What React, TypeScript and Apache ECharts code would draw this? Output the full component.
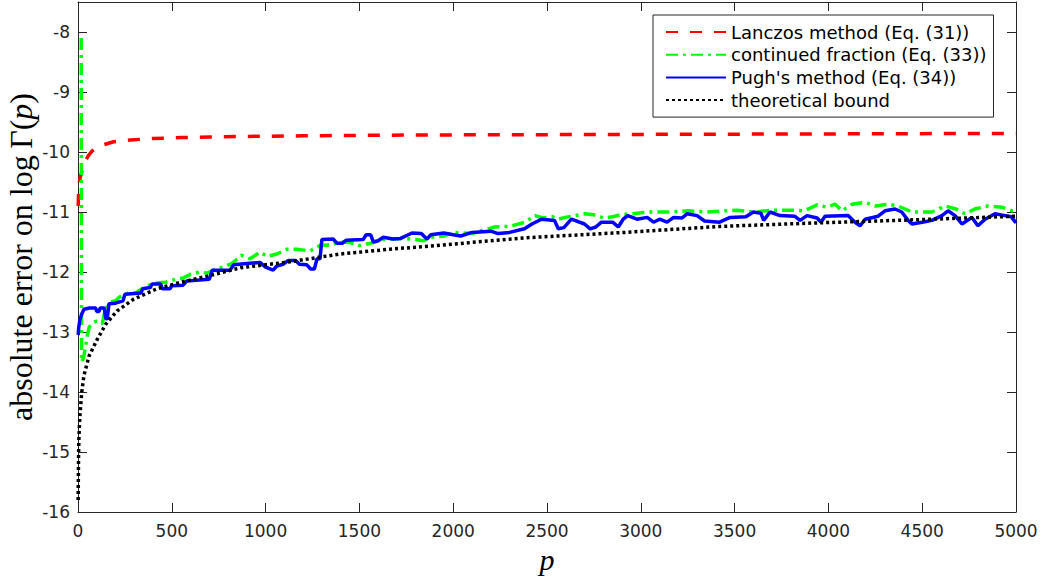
import React, { useEffect, useRef } from 'react';
import * as echarts from 'echarts';

// ---- data ----
const lanczosP = [1, 3, 6, 12, 20, 30, 41, 55, 76, 100, 135, 190, 280, 400, 550, 700, 900, 1200, 1600, 2000, 2600, 3200, 3800, 4400, 5000];
const lanczosV = [-10.9, -10.7, -10.52, -10.42, -10.33, -10.24, -10.14, -10.06, -9.98, -9.93, -9.88, -9.83, -9.8, -9.775, -9.76, -9.75, -9.74, -9.73, -9.72, -9.715, -9.71, -9.705, -9.7, -9.695, -9.69];

const contFracP = [17, 19, 30, 40, 50, 60, 75, 100, 130, 145, 175, 200, 220, 250, 280, 310, 340, 380, 430, 470, 520, 560, 600, 650, 690, 730, 770, 820, 850, 870, 917, 970, 1010, 1060, 1114, 1167, 1237, 1290, 1350, 1400, 1450, 1500, 1573, 1620, 1680, 1740, 1800, 1840, 1880, 1950, 2000, 2050, 2100, 2160, 2222, 2300, 2383, 2436, 2480, 2530, 2560, 2596, 2650, 2703, 2760, 2800, 2850, 2900, 2950, 3050, 3150, 3250, 3350, 3450, 3513, 3600, 3700, 3800, 3870, 3940, 3990, 4036, 4073, 4126, 4196, 4250, 4318, 4371, 4445, 4552, 4622, 4680, 4728, 4781, 4851, 4925, 4979, 5000];
const contFracV = [-8.1, -13.5, -13.42, -13.25, -13.05, -12.92, -12.85, -12.82, -12.86, -12.62, -12.5, -12.48, -12.42, -12.38, -12.33, -12.35, -12.28, -12.22, -12.18, -12.17, -12.12, -12.1, -12.04, -12.0, -12.02, -11.96, -11.92, -11.86, -11.78, -11.72, -11.78, -11.67, -11.74, -11.7, -11.62, -11.62, -11.65, -11.56, -11.55, -11.5, -11.51, -11.56, -11.51, -11.46, -11.45, -11.44, -11.46, -11.48, -11.42, -11.4, -11.34, -11.35, -11.36, -11.3, -11.25, -11.24, -11.17, -11.06, -11.1, -11.08, -11.12, -11.09, -11.06, -11.03, -11.05, -11.1, -11.08, -11.04, -11.03, -11.0, -11.0, -10.98, -11.0, -10.98, -10.97, -11.0, -10.97, -10.97, -10.98, -10.88, -10.92, -10.87, -10.98, -10.87, -10.84, -10.9, -10.87, -10.9, -11.0, -11.0, -10.9, -10.95, -11.03, -10.95, -10.9, -10.92, -10.98, -10.98];

const pughP = [1, 4, 10, 20, 32, 60, 94, 100, 112, 118, 140, 148, 156, 165, 200, 240, 250, 300, 335, 345, 385, 395, 440, 450, 490, 500, 560, 580, 700, 715, 810, 830, 900, 970, 1000, 1040, 1060, 1093, 1120, 1160, 1180, 1220, 1240, 1260, 1274, 1290, 1300, 1360, 1380, 1410, 1430, 1520, 1535, 1560, 1575, 1600, 1627, 1680, 1720, 1780, 1830, 1860, 1880, 1950, 2000, 2040, 2100, 2200, 2240, 2300, 2380, 2420, 2470, 2540, 2560, 2590, 2630, 2700, 2730, 2760, 2790, 2850, 2880, 2906, 2930, 2980, 3034, 3068, 3100, 3140, 3175, 3220, 3246, 3300, 3340, 3420, 3476, 3560, 3600, 3640, 3655, 3689, 3742, 3820, 3849, 3886, 3940, 3960, 3982, 4105, 4142, 4169, 4196, 4265, 4302, 4355, 4391, 4425, 4445, 4500, 4552, 4605, 4638, 4675, 4712, 4765, 4797, 4835, 4888, 4941, 4975, 5000];
const pughV = [-13.05, -12.92, -12.8, -12.7, -12.62, -12.6, -12.6, -12.66, -12.66, -12.6, -12.6, -12.78, -12.78, -12.53, -12.52, -12.48, -12.37, -12.36, -12.35, -12.28, -12.26, -12.2, -12.2, -12.28, -12.28, -12.23, -12.22, -12.15, -12.12, -11.97, -11.97, -11.88, -11.86, -11.84, -11.92, -11.97, -11.9, -11.87, -11.81, -11.81, -11.87, -11.88, -11.95, -11.95, -11.78, -11.78, -11.46, -11.45, -11.52, -11.52, -11.47, -11.46, -11.38, -11.38, -11.5, -11.48, -11.42, -11.45, -11.44, -11.35, -11.36, -11.45, -11.38, -11.35, -11.38, -11.4, -11.34, -11.32, -11.36, -11.34, -11.28, -11.2, -11.12, -11.14, -11.28, -11.26, -11.12, -11.2, -11.28, -11.25, -11.17, -11.17, -11.25, -11.12, -11.06, -11.12, -11.09, -11.17, -11.12, -11.17, -11.09, -11.1, -11.03, -11.06, -11.15, -11.17, -11.09, -11.08, -11.0, -11.02, -11.14, -11.0, -11.06, -11.07, -11.14, -11.06, -11.1, -11.17, -11.07, -11.06, -11.17, -11.23, -11.12, -11.07, -10.98, -10.95, -11.0, -11.14, -11.2, -11.17, -11.14, -11.06, -10.98, -11.06, -11.2, -11.09, -11.23, -11.12, -11.03, -11.06, -11.08, -11.18];

const boundP = [1, 2, 3, 5, 10, 20, 32, 59, 103, 148, 208, 298, 421, 549, 688, 866, 1130, 1397, 1663, 1870, 2383, 2916, 3422, 3955, 4462, 5000];
const boundV = [-15.8, -15.35, -15.05, -14.75, -14.4, -14.0, -13.72, -13.4, -13.12, -12.87, -12.65, -12.45, -12.28, -12.17, -12.07, -11.93, -11.83, -11.7, -11.62, -11.57, -11.43, -11.34, -11.24, -11.18, -11.13, -11.07];

const seriesNames = ['Lanczos method (Eq. (31))', 'continued fraction (Eq. (33))', "Pugh's method (Eq. (34))", 'theoretical bound'];
const xTicks = { min: 0, max: 5000, step: 500 };
const yTicks = { min: -16, max: -7.5, step: 1 };

const pairs = (p: number[], v: number[]) => p.map((x, i) => [x, v[i]]);

export default function App() {
  const ref = useRef<HTMLDivElement>(null);
  useEffect(() => {
    const chart = echarts.init(ref.current!, null, { renderer: 'svg' });
    const axisColor = '#262626';
    const tickFont = { fontFamily: 'DejaVu Sans', fontSize: 17, color: '#262626' };
    const baseAxisLine = { show: true, onZero: false, lineStyle: { color: axisColor, width: 1 } };
    const baseTick = { show: true, inside: true, length: 9, lineStyle: { color: axisColor, width: 1 } };
    const lw = 3.5;
    const serif = { fontFamily: 'Liberation Serif', fontSize: 32, lineHeight: 32, fill: '#000' };
    chart.setOption({
      animation: false,
      backgroundColor: '#ffffff',
      grid: { left: 78, top: 2, width: 938, height: 510, containLabel: false, outerBoundsMode: 'none' },
      graphic: [
        {
          type: 'text', x: 21, y: 257, rotation: Math.PI / 2,
          style: {
            text: '{a|absolute error on }{a|log\u2009Γ(}{c|p}{a|)}',
            align: 'center', verticalAlign: 'middle',
            rich: { a: { ...serif }, c: { ...serif, fontStyle: 'italic' } },
          },
        },
      ],
      xAxis: [
        {
          type: 'value', min: xTicks.min, max: xTicks.max, interval: xTicks.step, position: 'bottom',
          axisLine: baseAxisLine, axisTick: baseTick, splitLine: { show: false },
          axisLabel: { ...tickFont, margin: 10, formatter: (v: number) => String(v) },
          name: 'p', nameLocation: 'middle', nameGap: 32,
          nameTextStyle: { fontFamily: 'Liberation Serif', fontStyle: 'italic', fontSize: 30, color: '#000' },
        },
        {
          type: 'value', min: xTicks.min, max: xTicks.max, interval: xTicks.step, position: 'top',
          axisLine: baseAxisLine, axisTick: baseTick, splitLine: { show: false }, axisLabel: { show: false },
        },
      ],
      yAxis: [
        {
          type: 'value', min: yTicks.min, max: yTicks.max, interval: yTicks.step, position: 'left',
          axisLine: baseAxisLine, axisTick: baseTick, splitLine: { show: false },
          axisLabel: { ...tickFont, margin: 8, formatter: (v: number) => (Number.isInteger(v) ? String(v) : '') },
        },
        {
          type: 'value', min: yTicks.min, max: yTicks.max, interval: yTicks.step, position: 'right',
          axisLine: baseAxisLine, axisTick: baseTick, splitLine: { show: false }, axisLabel: { show: false },
        },
      ],
      legend: {
        orient: 'vertical', left: 653, top: 15,
        data: seriesNames,
        backgroundColor: '#ffffff', borderColor: '#262626', borderWidth: 1,
        padding: [8, 7, 8, 12], itemGap: 4.7, itemWidth: 60, itemHeight: 18,
        itemStyle: { opacity: 0 },
        textStyle: { fontFamily: 'DejaVu Sans', fontSize: 18, color: '#000' },
        selectedMode: false,
      },
      series: [
        {
          name: seriesNames[0], type: 'line', symbol: 'none', showSymbol: false,
          data: pairs(lanczosP, lanczosV),
          lineStyle: { color: '#ff0000', width: lw, type: [12, 12] }, itemStyle: { color: '#ff0000' },
        },
        {
          name: seriesNames[1], type: 'line', symbol: 'none', showSymbol: false,
          data: pairs(contFracP, contFracV),
          lineStyle: { color: '#00ff00', width: lw, type: [12, 5, 3, 5] }, itemStyle: { color: '#00ff00' },
        },
        {
          name: seriesNames[2], type: 'line', symbol: 'none', showSymbol: false,
          data: pairs(pughP, pughV),
          lineStyle: { color: '#0000ff', width: lw }, itemStyle: { color: '#0000ff' },
        },
        {
          name: seriesNames[3], type: 'line', symbol: 'none', showSymbol: false,
          data: pairs(boundP, boundV),
          lineStyle: { color: '#000000', width: lw, type: [3, 3] }, itemStyle: { color: '#000000' },
        },
      ],
    });
    return () => chart.dispose();
  }, []);
  return <div ref={ref} style={{ position: 'fixed', left: 0, top: 0, width: 1042, height: 579, background: '#fff' }} />;
}
